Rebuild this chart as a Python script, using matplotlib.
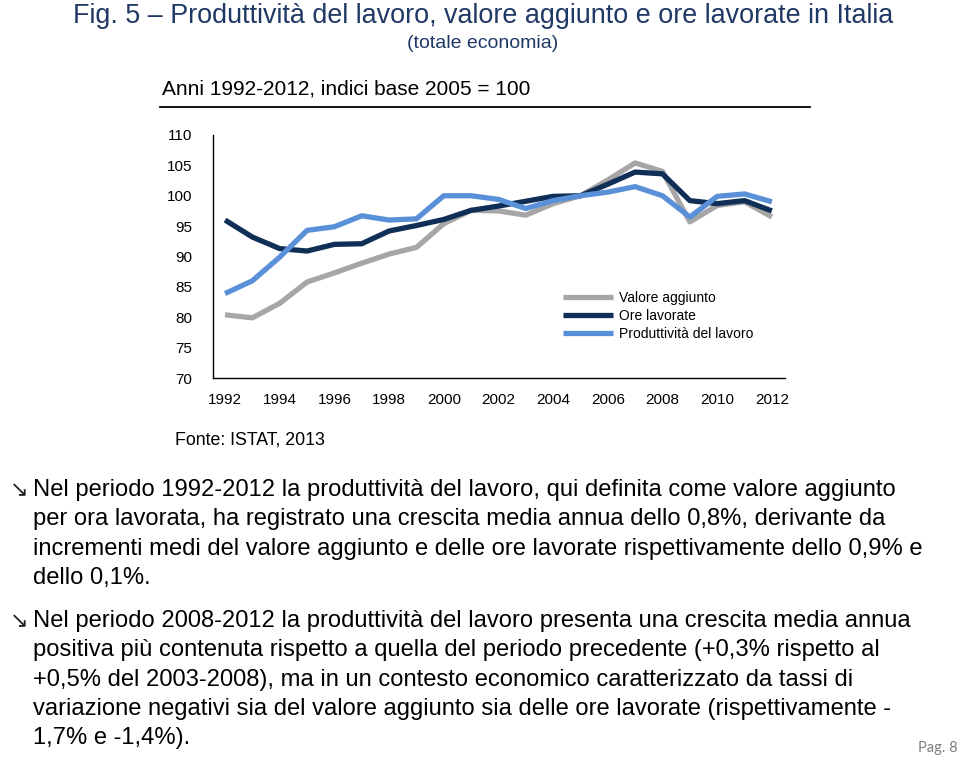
import matplotlib
matplotlib.use("Agg")
import matplotlib.pyplot as plt
from matplotlib.lines import Line2D

years = list(range(1992, 2013))
valore_aggiunto = [80.4, 79.9, 82.3, 85.8, 87.3, 88.9, 90.4, 91.5, 95.4, 97.6, 97.5,
                   96.8, 98.7, 100.0, 102.6, 105.4, 104.0, 95.7, 98.4, 99.0, 96.5]
ore_lavorate = [96.0, 93.2, 91.3, 90.9, 92.0, 92.1, 94.2, 95.1, 96.1, 97.6, 98.3,
                99.1, 99.9, 100.0, 101.9, 103.9, 103.6, 99.2, 98.7, 99.2, 97.5]
produttivita = [83.9, 86.0, 89.9, 94.3, 94.9, 96.7, 96.0, 96.2, 100.0, 100.0, 99.4,
                97.9, 99.2, 100.0, 100.6, 101.5, 100.0, 96.5, 99.9, 100.3, 99.0]
series_names = ["Valore aggiunto", "Ore lavorate", "Produttività del lavoro"]
yticks = [70, 75, 80, 85, 90, 95, 100, 105, 110]
xticks = list(range(1992, 2013, 2))

font = "Liberation Sans"

W, H = 960, 759
fig = plt.figure(figsize=(W / 100, H / 100), dpi=100)
fig.patch.set_facecolor("white")

def fx(x):
    return x / W

def fy(y):
    return 1 - y / H

title_col = "#1F3864"
fig.text(fx(483), fy(16), "Fig. 5 – Produttività del lavoro, valore aggiunto e ore lavorate in Italia",
         ha="center", va="center", fontsize=19.4, family=font, color=title_col)
fig.text(fx(483), fy(44), "(totale economia)", ha="center", va="center",
         fontsize=14, family=font, color=title_col)

fig.text(fx(162), fy(89), "Anni 1992-2012, indici base 2005 = 100", ha="left", va="center",
         fontsize=15, family=font, color="black")
fig.add_artist(Line2D([fx(160), fx(810)], [fy(107), fy(107)], color="black", lw=1.3))

ax = fig.add_axes([fx(213), fy(378), fx(785) - fx(213), fy(135) - fy(378)])
cols = ["#A6A6A6", "#0F2F57", "#5A90D8"]
for vals, c, n in zip([valore_aggiunto, ore_lavorate, produttivita], cols, series_names):
    ax.plot(years, vals, color=c, lw=3.8, label=n, solid_capstyle="butt")
ax.set_xlim(1991.56, 2012.48)
ax.set_ylim(70, 110)
ax.set_yticks(yticks)
ax.set_xticks(xticks)
ax.tick_params(length=0, labelsize=11)
for lab in ax.get_xticklabels() + ax.get_yticklabels():
    lab.set_family(font)
ax.tick_params(axis="x", pad=11)
ax.tick_params(axis="y", pad=15)
for s in ["top", "right"]:
    ax.spines[s].set_visible(False)
for s in ["left", "bottom"]:
    ax.spines[s].set_linewidth(1.0)
    ax.spines[s].set_color("black")
ax.legend(loc="upper left", bbox_to_anchor=((563 - 213) / (785 - 213), (378 - 291) / (378 - 135)),
          frameon=False, handlelength=3.6, handletextpad=0.4, labelspacing=0.28,
          prop={"family": font, "size": 10}, borderaxespad=0, borderpad=0)

fig.text(fx(175), fy(440), "Fonte: ISTAT, 2013", ha="left", va="center",
         fontsize=12.8, family=font, color="black")

para1 = ["Nel periodo 1992-2012 la produttività del lavoro, qui definita come valore aggiunto",
         "per ora lavorata, ha registrato una crescita media annua dello 0,8%, derivante da",
         "incrementi medi del valore aggiunto e delle ore lavorate rispettivamente dello 0,9% e",
         "dello 0,1%."]
para2 = ["Nel periodo 2008-2012 la produttività del lavoro presenta una crescita media annua",
         "positiva più contenuta rispetto a quella del periodo precedente (+0,3% rispetto al",
         "+0,5% del 2003-2008), ma in un contesto economico caratterizzato da tassi di",
         "variazione negativi sia del valore aggiunto sia delle ore lavorate (rispettivamente -",
         "1,7% e -1,4%)."]
body_fs = 17.1
for start, para in [(490, para1), (621, para2)]:
    fig.text(fx(10), fy(start), "↘", ha="left", va="center", fontsize=16,
             family="DejaVu Sans", color="#222222")
    for i, line in enumerate(para):
        fig.text(fx(33), fy(start + i * 29.3), line, ha="left", va="center",
                 fontsize=body_fs, family=font, color="black")

fig.text(fx(958), fy(748), "Pag. 8", ha="right", va="center", fontsize=10.5,
         family="Lato", color="#7F7F7F")

fig.savefig("out.png", dpi=100, facecolor="white")
